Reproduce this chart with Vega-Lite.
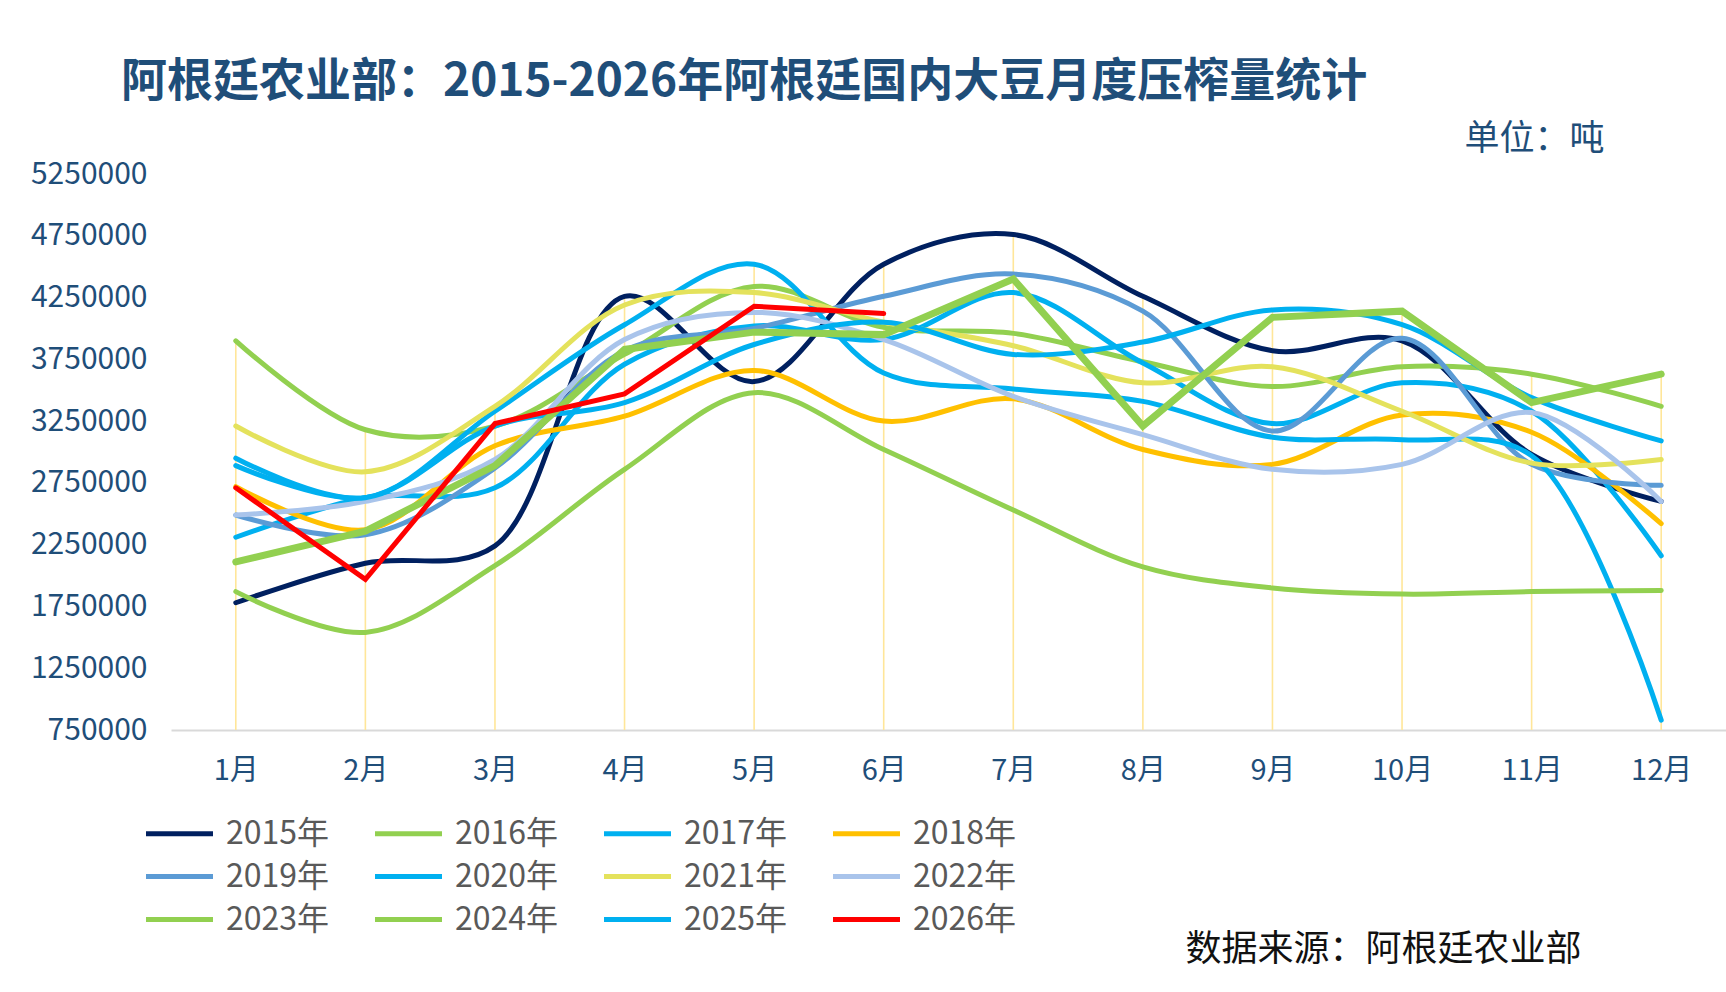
{
  "$schema": "https://vega.github.io/schema/vega-lite/v6.json",
  "width": 1555,
  "height": 556,
  "autosize": {"type": "none"},
  "padding": {"left": 171, "top": 174, "right": 0, "bottom": 262},
  "background": "white",
  "config": {
    "font": "Noto Sans CJK SC",
    "view": {"stroke": null}
  },
  "title": {
    "text": "阿根廷农业部：2015-2026年阿根廷国内大豆月度压榨量统计",
    "fontSize": 46,
    "fontWeight": "bold",
    "color": "#1F4E79",
    "anchor": "start",
    "frame": "group",
    "dx": -50,
    "offset": 15
  },
  "data": {
    "values": [
      {"year": "2015年", "month": "1月", "value": 1780000}, {"year": "2015年", "month": "2月", "value": 2100000}, {"year": "2015年", "month": "3月", "value": 2240000}, {"year": "2015年", "month": "4月", "value": 4260000}, {"year": "2015年", "month": "5月", "value": 3570000}, {"year": "2015年", "month": "6月", "value": 4520000}, {"year": "2015年", "month": "7月", "value": 4760000}, {"year": "2015年", "month": "8月", "value": 4260000}, {"year": "2015年", "month": "9月", "value": 3820000}, {"year": "2015年", "month": "10月", "value": 3900000}, {"year": "2015年", "month": "11月", "value": 2980000}, {"year": "2015年", "month": "12月", "value": 2600000},
      {"year": "2016年", "month": "1月", "value": 3900000}, {"year": "2016年", "month": "2月", "value": 3180000}, {"year": "2016年", "month": "3月", "value": 3210000}, {"year": "2016年", "month": "4月", "value": 3790000}, {"year": "2016年", "month": "5月", "value": 4340000}, {"year": "2016年", "month": "6月", "value": 4010000}, {"year": "2016年", "month": "7月", "value": 3960000}, {"year": "2016年", "month": "8月", "value": 3730000}, {"year": "2016年", "month": "9月", "value": 3530000}, {"year": "2016年", "month": "10月", "value": 3690000}, {"year": "2016年", "month": "11月", "value": 3630000}, {"year": "2016年", "month": "12月", "value": 3370000},
      {"year": "2017年", "month": "1月", "value": 2310000}, {"year": "2017年", "month": "2月", "value": 2630000}, {"year": "2017年", "month": "3月", "value": 2710000}, {"year": "2017年", "month": "4月", "value": 3710000}, {"year": "2017年", "month": "5月", "value": 4020000}, {"year": "2017年", "month": "6月", "value": 3910000}, {"year": "2017年", "month": "7月", "value": 4290000}, {"year": "2017年", "month": "8月", "value": 3720000}, {"year": "2017年", "month": "9月", "value": 3230000}, {"year": "2017年", "month": "10月", "value": 3560000}, {"year": "2017年", "month": "11月", "value": 3330000}, {"year": "2017年", "month": "12月", "value": 2160000},
      {"year": "2018年", "month": "1月", "value": 2720000}, {"year": "2018年", "month": "2月", "value": 2370000}, {"year": "2018年", "month": "3月", "value": 3050000}, {"year": "2018年", "month": "4月", "value": 3290000}, {"year": "2018年", "month": "5月", "value": 3660000}, {"year": "2018年", "month": "6月", "value": 3250000}, {"year": "2018年", "month": "7月", "value": 3430000}, {"year": "2018年", "month": "8月", "value": 3020000}, {"year": "2018年", "month": "9月", "value": 2900000}, {"year": "2018年", "month": "10月", "value": 3300000}, {"year": "2018年", "month": "11月", "value": 3160000}, {"year": "2018年", "month": "12月", "value": 2420000},
      {"year": "2019年", "month": "1月", "value": 2490000}, {"year": "2019年", "month": "2月", "value": 2330000}, {"year": "2019年", "month": "3月", "value": 2870000}, {"year": "2019年", "month": "4月", "value": 3820000}, {"year": "2019年", "month": "5月", "value": 4000000}, {"year": "2019年", "month": "6月", "value": 4260000}, {"year": "2019年", "month": "7月", "value": 4440000}, {"year": "2019年", "month": "8月", "value": 4140000}, {"year": "2019年", "month": "9月", "value": 3170000}, {"year": "2019年", "month": "10月", "value": 3920000}, {"year": "2019年", "month": "11月", "value": 2900000}, {"year": "2019年", "month": "12月", "value": 2730000},
      {"year": "2020年", "month": "1月", "value": 2950000}, {"year": "2020年", "month": "2月", "value": 2630000}, {"year": "2020年", "month": "3月", "value": 3330000}, {"year": "2020年", "month": "4月", "value": 4030000}, {"year": "2020年", "month": "5月", "value": 4520000}, {"year": "2020年", "month": "6月", "value": 3640000}, {"year": "2020年", "month": "7月", "value": 3510000}, {"year": "2020年", "month": "8月", "value": 3410000}, {"year": "2020年", "month": "9月", "value": 3120000}, {"year": "2020年", "month": "10月", "value": 3100000}, {"year": "2020年", "month": "11月", "value": 2970000}, {"year": "2020年", "month": "12月", "value": 830000},
      {"year": "2021年", "month": "1月", "value": 3210000}, {"year": "2021年", "month": "2月", "value": 2840000}, {"year": "2021年", "month": "3月", "value": 3370000}, {"year": "2021年", "month": "4月", "value": 4190000}, {"year": "2021年", "month": "5月", "value": 4290000}, {"year": "2021年", "month": "6月", "value": 4050000}, {"year": "2021年", "month": "7月", "value": 3860000}, {"year": "2021年", "month": "8月", "value": 3560000}, {"year": "2021年", "month": "9月", "value": 3690000}, {"year": "2021年", "month": "10月", "value": 3330000}, {"year": "2021年", "month": "11月", "value": 2910000}, {"year": "2021年", "month": "12月", "value": 2940000},
      {"year": "2022年", "month": "1月", "value": 2490000}, {"year": "2022年", "month": "2月", "value": 2600000}, {"year": "2022年", "month": "3月", "value": 2940000}, {"year": "2022年", "month": "4月", "value": 3910000}, {"year": "2022年", "month": "5月", "value": 4130000}, {"year": "2022年", "month": "6月", "value": 3910000}, {"year": "2022年", "month": "7月", "value": 3450000}, {"year": "2022年", "month": "8月", "value": 3140000}, {"year": "2022年", "month": "9月", "value": 2860000}, {"year": "2022年", "month": "10月", "value": 2900000}, {"year": "2022年", "month": "11月", "value": 3320000}, {"year": "2022年", "month": "12月", "value": 2600000},
      {"year": "2023年", "month": "1月", "value": 1870000}, {"year": "2023年", "month": "2月", "value": 1540000}, {"year": "2023年", "month": "3月", "value": 2080000}, {"year": "2023年", "month": "4月", "value": 2860000}, {"year": "2023年", "month": "5月", "value": 3480000}, {"year": "2023年", "month": "6月", "value": 3020000}, {"year": "2023年", "month": "7月", "value": 2530000}, {"year": "2023年", "month": "8月", "value": 2070000}, {"year": "2023年", "month": "9月", "value": 1900000}, {"year": "2023年", "month": "10月", "value": 1850000}, {"year": "2023年", "month": "11月", "value": 1870000}, {"year": "2023年", "month": "12月", "value": 1880000},
      {"year": "2024年", "month": "1月", "value": 2110000}, {"year": "2024年", "month": "2月", "value": 2360000}, {"year": "2024年", "month": "3月", "value": 2890000}, {"year": "2024年", "month": "4月", "value": 3830000}, {"year": "2024年", "month": "5月", "value": 3970000}, {"year": "2024年", "month": "6月", "value": 3950000}, {"year": "2024年", "month": "7月", "value": 4400000}, {"year": "2024年", "month": "8月", "value": 3210000}, {"year": "2024年", "month": "9月", "value": 4090000}, {"year": "2024年", "month": "10月", "value": 4140000}, {"year": "2024年", "month": "11月", "value": 3400000}, {"year": "2024年", "month": "12月", "value": 3630000},
      {"year": "2025年", "month": "1月", "value": 2890000}, {"year": "2025年", "month": "2月", "value": 2630000}, {"year": "2025年", "month": "3月", "value": 3210000}, {"year": "2025年", "month": "4月", "value": 3400000}, {"year": "2025年", "month": "5月", "value": 3870000}, {"year": "2025年", "month": "6月", "value": 4050000}, {"year": "2025年", "month": "7月", "value": 3790000}, {"year": "2025年", "month": "8月", "value": 3890000}, {"year": "2025年", "month": "9月", "value": 4150000}, {"year": "2025年", "month": "10月", "value": 4030000}, {"year": "2025年", "month": "11月", "value": 3440000}, {"year": "2025年", "month": "12月", "value": 3090000},
      {"year": "2026年", "month": "1月", "value": 2710000}, {"year": "2026年", "month": "2月", "value": 1970000}, {"year": "2026年", "month": "3月", "value": 3230000}, {"year": "2026年", "month": "4月", "value": 3470000}, {"year": "2026年", "month": "5月", "value": 4180000}, {"year": "2026年", "month": "6月", "value": 4120000}
    ]
  },
  "encoding": {
    "x": {
      "field": "month",
      "type": "ordinal",
      "sort": ["1月", "2月", "3月", "4月", "5月", "6月", "7月", "8月", "9月", "10月", "11月", "12月"],
      "scale": {"type": "point", "padding": 0.5},
      "axis": {
        "labelAngle": 0,
        "labelFontSize": 29,
        "labelColor": "#1F4E79",
        "labelPadding": 26,
        "ticks": false,
        "domainColor": "#D9D9D9",
        "domainWidth": 2,
        "grid": false,
        "title": "数据来源：阿根廷农业部",
        "titleFontSize": 36,
        "titleFontWeight": "normal",
        "titleColor": "#111111",
        "titleAlign": "left",
        "titleBaseline": "middle",
        "titleAnchor": "start",
        "titleX": 1014,
        "titleY": 219
      }
    },
    "y": {
      "field": "value",
      "type": "quantitative",
      "scale": {"domain": [750000, 5250000], "nice": false, "zero": false},
      "axis": {
        "values": [750000, 1250000, 1750000, 2250000, 2750000, 3250000, 3750000, 4250000, 4750000, 5250000],
        "format": "d",
        "labelFontSize": 30,
        "labelColor": "#1F4E79",
        "labelPadding": 24,
        "labelFlush": false,
        "ticks": false,
        "domain": false,
        "grid": false,
        "title": "单位：吨",
        "titleAngle": 0,
        "titleFontSize": 35,
        "titleFontWeight": "normal",
        "titleColor": "#1F4E79",
        "titleAlign": "left",
        "titleBaseline": "middle",
        "titleX": 1293,
        "titleY": -36
      }
    }
  },
  "layer": [
    {
      "transform": [{"aggregate": [{"op": "max", "field": "value", "as": "maxv"}], "groupby": ["month"]}],
      "mark": {"type": "rule", "color": "#FFE699", "strokeWidth": 1.6},
      "encoding": {
        "y": {"field": "maxv", "type": "quantitative"},
        "y2": {"datum": 750000}
      }
    },
    {
      "transform": [{"filter": "datum.year !== '2024年' && datum.year !== '2026年'"}],
      "mark": {"type": "line", "interpolate": "catmull-rom", "strokeWidth": 5, "strokeCap": "round"},
      "encoding": {
        "color": {
          "field": "year", "type": "nominal",
          "scale": {
            "domain": ["2015年", "2016年", "2017年", "2018年", "2019年", "2020年", "2021年", "2022年", "2023年", "2024年", "2025年", "2026年"],
            "range": ["#002060", "#92D050", "#00B0F0", "#FFC000", "#5B9BD5", "#00B0F0", "#E4E25C", "#A9C4EB", "#92D050", "#92D050", "#00B0F0", "#FF0000"]
          },
          "legend": {
            "orient": "none",
            "legendX": -11,
            "legendY": 640,
            "direction": "horizontal",
            "columns": 4,
            "title": null,
            "padding": 0,
            "symbolType": "M-2,0L2,0",
            "symbolSize": 1122,
            "symbolStrokeWidth": 5,
            "labelFontSize": 32,
            "labelColor": "#595959",
            "labelOffset": 27,
            "columnPadding": 35,
            "rowPadding": 7,
            "values": ["2015年", "2016年", "2017年", "2018年", "2019年", "2020年", "2021年", "2022年", "2023年", "2024年", "2025年", "2026年"]
          }
        }
      }
    },
    {
      "transform": [{"filter": "datum.year === '2024年'"}],
      "mark": {"type": "line", "strokeWidth": 7, "strokeCap": "round", "strokeJoin": "miter"},
      "encoding": {
        "color": {"field": "year", "type": "nominal"}
      }
    },
    {
      "transform": [{"filter": "datum.year === '2026年'"}],
      "mark": {"type": "line", "strokeWidth": 5, "strokeCap": "round", "strokeJoin": "miter"},
      "encoding": {
        "color": {"field": "year", "type": "nominal"}
      }
    }
  ]
}
